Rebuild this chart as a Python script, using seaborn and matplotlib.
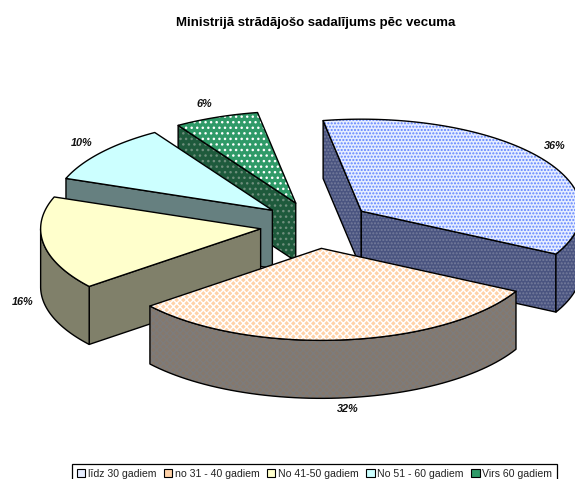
import numpy as np
import matplotlib
matplotlib.use('Agg')
import matplotlib.pyplot as plt
from matplotlib.patches import Patch, Polygon
import seaborn as sns

# --- data ---
categories = ['līdz 30 gadiem', 'no 31 - 40 gadiem', 'No 41-50 gadiem', 'No 51 - 60 gadiem', 'Virs 60 gadiem']
shares = [35.5, 31.5, 16.4, 10.4, 6.2]
title = 'Ministrijā strādājošo sadalījums pēc vecuma'

# --- style ---
top_colors = ['#E6EDFF', '#FFD2A8', '#FFFFCC', '#CCFFFF', '#2F9A68']
top_hatch_colors = ['#5F82FF', '#FFFFFF', '#FFFFCC', '#CCFFFF', '#FFFFFF']
side_colors = ['#4A5480', '#86786C', '#80806A', '#668080', '#1E5A3C']
side_hatch_colors = ['#757C9C', '#7C7C7C', '#80806A', '#668080', '#6E8E7C']
hatches = ['.....', 'xxxxx', None, None, '...']
paint_order = [4, 3, 2, 0, 1]  # back to front

sns.set_theme(style='white')
plt.rcParams['font.family'] = ['Liberation Sans', 'DejaVu Sans']
plt.rcParams['hatch.linewidth'] = 1.0

W, H = 575, 479
fig = plt.figure(figsize=(W / 100, H / 100), dpi=100)
ax = fig.add_axes([0, 0, 1, 1])

# pie: unit radius, squashed by the axis limits (220 x 92 px)
rx, ry = 220, 92
cx, cy = 316, 225
ax.set_xlim(-cx / rx, (W - cx) / rx)
ax.set_ylim(-(H - cy) / ry, cy / ry)
ax.axis('off')

start_angle = -10
explode = 0.255
depth = 58 / ry


def ring(angles, ox, oy):
    a = np.radians(angles)
    return np.column_stack([ox + np.sin(a), oy + np.cos(a)])


def draw_face(pts, face, hatch, hatch_color, z):
    ax.add_patch(Polygon(pts, closed=True, facecolor=face, edgecolor=hatch_color if hatch else face,
                         hatch=hatch, lw=0, zorder=z))
    ax.add_patch(Polygon(pts, closed=True, fill=False, edgecolor='black', lw=1.0, zorder=z + 0.1,
                         joinstyle='round'))


def wall(edge):
    lower = edge[::-1] - [0, depth]
    return np.vstack([edge, lower])


edges = start_angle + np.cumsum([0] + shares) * 360 / sum(shares)

for z, i in enumerate(paint_order):
    t0, t1 = edges[i], edges[i + 1]
    mid = np.radians((t0 + t1) / 2)
    ox, oy = explode * np.sin(mid), explode * np.cos(mid)
    apex = np.array([[ox, oy]])
    p0, p1 = ring([t0], ox, oy), ring([t1], ox, oy)
    z0 = z * 10 + 1

    if p0[0, 0] < ox:
        draw_face(wall(np.vstack([apex, p0])), side_colors[i], hatches[i], side_hatch_colors[i], z0)
    if p1[0, 0] > ox:
        draw_face(wall(np.vstack([p1, apex])), side_colors[i], hatches[i], side_hatch_colors[i], z0 + 1)
    lo, hi = max(t0, 90), min(t1, 270)
    if hi > lo:
        draw_face(wall(ring(np.linspace(lo, hi, 60), ox, oy)), side_colors[i], hatches[i], side_hatch_colors[i], z0 + 2)

    top = np.vstack([apex, ring(np.linspace(t0, t1, 120), ox, oy)])
    draw_face(top, top_colors[i], hatches[i], top_hatch_colors[i], z0 + 3)

# --- texts ---
label_px = [(555, 146), (348, 409), (23, 302), (82, 143), (204, 104)]
for s, (px, py) in zip(shares, label_px):
    fig.text(px / W, 1 - py / H, f'{s:.0f}%', ha='center', va='center', fontsize=7.8,
             fontweight='bold', fontstyle='italic', color='#111111')

fig.text(316 / W, 1 - 23 / H, title, ha='center', va='center', fontsize=9.5,
         fontweight='bold', color='black')

handles = [Patch(facecolor=top_colors[i], edgecolor='black', lw=0.8, label=categories[i])
           for i in range(len(categories))]
leg = fig.legend(handles=handles, loc='upper left', bbox_to_anchor=(72 / W, 1 - 464 / H),
                 bbox_transform=fig.transFigure, ncol=5, fontsize=7.6, frameon=True, fancybox=False,
                 edgecolor='black', borderaxespad=0, borderpad=0.45, handlelength=0.8, handleheight=0.8,
                 handletextpad=0.25, columnspacing=0.7, labelcolor='#222222')
leg.get_frame().set_linewidth(0.9)
leg.get_frame().set_alpha(1)

fig.savefig('out.png', dpi=100)
